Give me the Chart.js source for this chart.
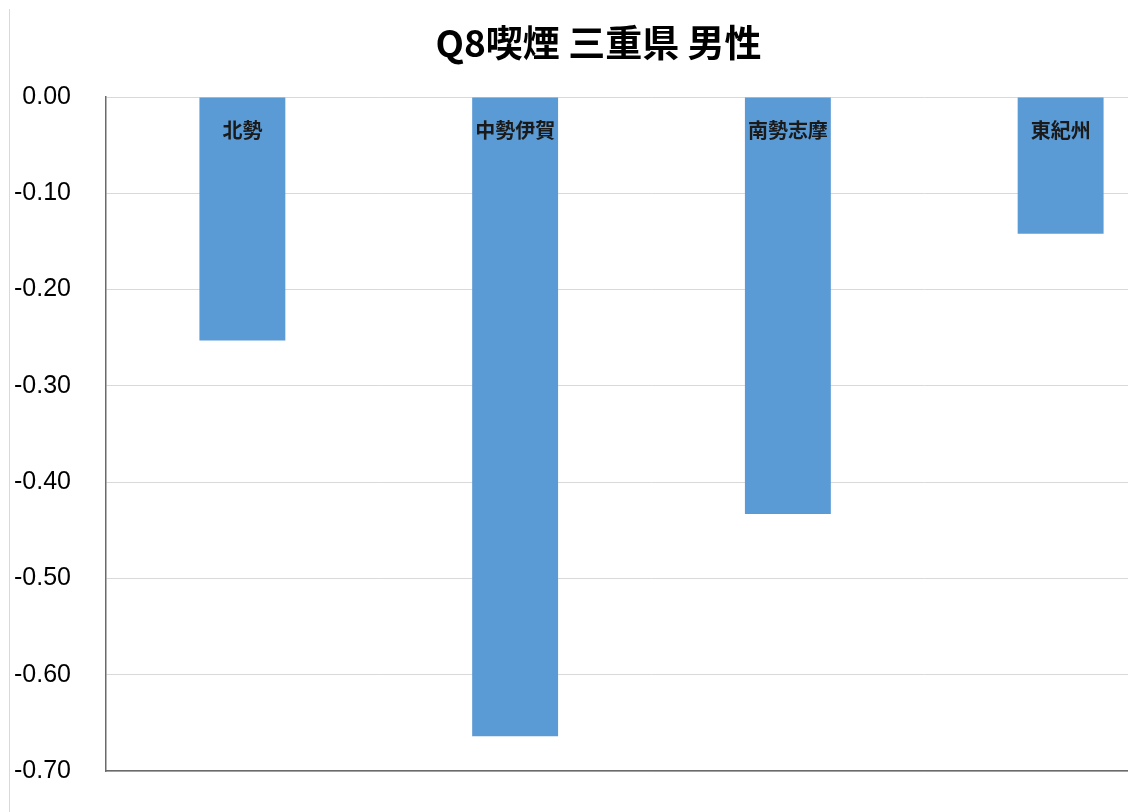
<!DOCTYPE html>
<html lang="ja">
<head>
<meta charset="utf-8">
<title>Q8喫煙 三重県 男性</title>
<script src="https://cdn.jsdelivr.net/npm/chart.js@4/dist/chart.umd.min.js"></script>
<style>
  html, body { margin: 0; padding: 0; background: #fff; overflow: hidden; width: 1128px; height: 812px; }
  #wrap { position: relative; width: 1200px; height: 812px; }
  #frame { position: absolute; left: 9px; top: 9px; width: 1px; height: 803px; background: #d9d9d9; }
  canvas { position: absolute; left: 0; top: 0; }
</style>
</head>
<body>
<div id="wrap">
  <div id="frame"></div>
  <canvas id="chart" width="1200" height="812"></canvas>
</div>
<script>
// 地域別スコア（男性）
const chartTitle = 'Q8喫煙 三重県 男性';
const regions = ['北勢', '中勢伊賀', '南勢志摩', '東紀州'];
const scores = [-0.253, -0.664, -0.433, -0.142];
const yMin = -0.7;
const yMax = 0;
const yStep = 0.1;

const latinFont = "'Liberation Sans', 'Noto Sans CJK JP', sans-serif";
const cjkFont = "'Noto Sans CJK JP', 'Liberation Sans', sans-serif";

// 地域名を 0 の基線のすぐ下、各棒の中に描く
const regionLabels = {
  id: 'regionLabels',
  afterDatasetsDraw(chart) {
    const { ctx, scales } = chart;
    const x = scales.x, y = scales.y;
    const base = y.getPixelForValue(0);
    ctx.save();
    ctx.font = "bold 20px " + cjkFont;
    ctx.fillStyle = '#1a1a1a';
    ctx.textAlign = 'center';
    ctx.textBaseline = 'middle';
    chart.data.labels.forEach((label, i) => {
      ctx.fillText(label, x.getPixelForValue(i), base + 33);
    });
    ctx.restore();
  }
};

new Chart(document.getElementById('chart'), {
  type: 'bar',
  data: {
    labels: regions,
    datasets: [{
      data: scores,
      backgroundColor: '#5b9bd5',
      borderWidth: 0,
      categoryPercentage: 1,
      barPercentage: 0.315
    }]
  },
  options: {
    responsive: false,
    animation: false,
    layout: { padding: { left: 0, right: 3, top: 0, bottom: 41 } },
    plugins: {
      legend: { display: false },
      tooltip: { enabled: false },
      title: {
        display: true,
        text: chartTitle,
        color: '#000',
        font: { family: cjkFont, size: 37, weight: 'bold' },
        padding: { top: 21, bottom: 31.6 }
      }
    },
    scales: {
      x: {
        position: 'bottom',
        afterFit(scale) { scale.height = 0; },
        grid: { display: false, drawTicks: false },
        border: { display: true, color: '#6b6b6b', width: 1.5 },
        ticks: { display: false }
      },
      y: {
        min: yMin,
        max: yMax,
        // 軸幅を固定し、目盛ラベルの上下はみ出し分は余白に含めない
        afterFit(scale) {
          scale.width = 106;
          scale.paddingTop = 0;
          scale.paddingBottom = 0;
        },
        grid: { color: '#d9d9d9', lineWidth: 1, drawTicks: false },
        border: { display: true, color: '#6b6b6b', width: 1.5 },
        ticks: {
          stepSize: yStep,
          padding: 35,
          color: '#000',
          font: { family: latinFont, size: 25 },
          callback: (v) => Number(v).toFixed(2)
        }
      }
    }
  },
  plugins: [regionLabels]
});
</script>
</body>
</html>
